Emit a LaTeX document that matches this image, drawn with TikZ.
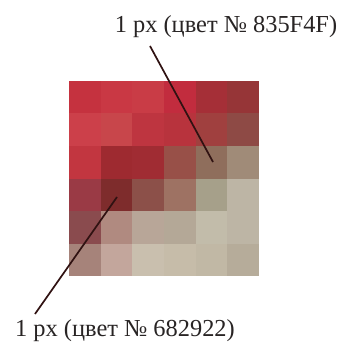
\documentclass[tikz,border=0pt]{standalone}
\usepackage{fontspec}
\setmainfont{Liberation Serif}
\usepackage{xcolor}
\definecolor{label_color}{RGB}{40, 36, 36}
\definecolor{pointer_color}{RGB}{48, 18, 18}

\begin{document}
\begin{tikzpicture}[x=1pt, y=-1pt, font=\fontsize{24.4}{28}\selectfont]

      % 0. Marco del dibujo (340 x 347)
      \useasboundingbox (0,0) rectangle (340,347);

      % 1. Rejilla de píxeles (6 x 6), fila por fila
      \foreach [count=\r] \rowcols in {
        {C5323F,C93844,C93C46,C22C3E,A52F37,963537},
        {CC404A,C8464B,BE3540,B8333D,A0403F,8E4A45},
        {C23640,9E2A30,A02C33,985048,8F6E5C,A08B78},
        {9A3A45,7E2C2C,8C5049,9E7263,A6A08A,BDB5A5},
        {8A4B4E,B08A80,B8A698,B4A897,C2BCAA,BDB5A5},
        {A6837A,C3A69C,C9BFAE,C6BCA9,C1B8A5,B6AC9A}} {
        \foreach [count=\c] \hex in \rowcols {
          \definecolor{cell_color}{HTML}{\hex}
          \fill[cell_color] ({69+(\c-1)*31.67},{81+(\r-1)*32.5})
            rectangle ({69+\c*31.67},{81+\r*32.5});
        }
      }

      % 2. Etiquetas
      % Píxel 1 (arriba)
      \node[anchor=base, text=label_color, inner sep=0pt] (labeltop) at (226,33)
        {1 px (цвет № 835F4F)};

      % Píxel 2 (abajo)
      \node[anchor=base, text=label_color, inner sep=0pt] (labelbottom) at (125,336)
        {1 px (цвет № 682922)};

      % 3. Líneas indicadoras
      \coordinate (starttop) at (150,46);
      \coordinate (pixeltop) at (213,162);
      \draw[pointer_color, line width=1.7pt] (starttop) -- (pixeltop);

      \coordinate (startbottom) at (35,314);
      \coordinate (pixelbottom) at (117,197);
      \draw[pointer_color, line width=1.7pt] (startbottom) -- (pixelbottom);

    \end{tikzpicture}
\end{document}
